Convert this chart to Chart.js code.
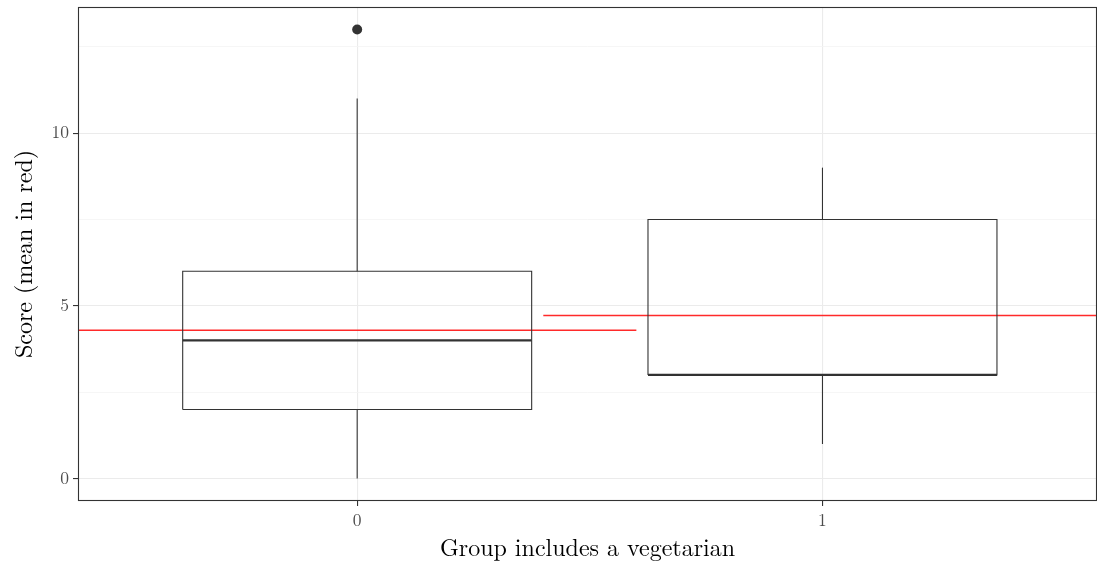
<!DOCTYPE html>
<html>
<head>
<meta charset="utf-8">
<script src="https://cdn.jsdelivr.net/npm/chart.js@4.4.1/dist/chart.umd.min.js"></script>
<style>
  html, body { margin: 0; padding: 0; background: #fff; overflow: hidden; }
  canvas { display: block; }
</style>
</head>
<body>
<canvas id="grafico" width="1097" height="565" style="width:1097px;height:565px"></canvas>
<script>
// dados
const grupos = [0, 1];
const bigodeInf = [0, 1];
const q1 = [2, 3];
const mediana = [4, 3];
const q3 = [6, 7.5];
const bigodeSup = [11, 9];
const outliers = [[13], []];
const medias = [4.29, 4.72];
const ticksY = [0, 5, 10];
const gradeMenorY = [2.5, 7.5, 12.5];

const meiaCaixa = 0.375;
const meiaMedia = 0.6;
const corLinha = '#333333';
const fonte = '"Latin Modern Roman", "Liberation Serif", "DejaVu Serif", serif';

function montarDatasets() {
    const ds = [];
    grupos.forEach((g, i) => {
        // caixa
        ds.push({
            data: [
                { x: g - meiaCaixa, y: q1[i] }, { x: g + meiaCaixa, y: q1[i] },
                { x: g + meiaCaixa, y: q3[i] }, { x: g - meiaCaixa, y: q3[i] },
                { x: g - meiaCaixa, y: q1[i] }
            ],
            showLine: true, borderColor: corLinha, borderWidth: 1.1, pointRadius: 0, fill: false
        });
        // mediana
        ds.push({
            data: [{ x: g - meiaCaixa, y: mediana[i] }, { x: g + meiaCaixa, y: mediana[i] }],
            showLine: true, borderColor: corLinha, borderWidth: 2.2, pointRadius: 0
        });
        // bigodes
        ds.push({
            data: [{ x: g, y: q3[i] }, { x: g, y: bigodeSup[i] }],
            showLine: true, borderColor: corLinha, borderWidth: 1.1, pointRadius: 0
        });
        ds.push({
            data: [{ x: g, y: q1[i] }, { x: g, y: bigodeInf[i] }],
            showLine: true, borderColor: corLinha, borderWidth: 1.1, pointRadius: 0
        });
        // outliers
        ds.push({
            data: outliers[i].map(v => ({ x: g, y: v })),
            showLine: false, pointRadius: 5, pointBackgroundColor: corLinha,
            pointBorderColor: corLinha, pointBorderWidth: 0
        });
    });
    // médias em vermelho
    grupos.forEach((g, i) => {
        ds.push({
            data: [{ x: g - meiaMedia, y: medias[i] }, { x: g + meiaMedia, y: medias[i] }],
            showLine: true, borderColor: '#ff2a2a', borderWidth: 1.5, pointRadius: 0
        });
    });
    return ds;
}

const moldura = {
    id: 'moldura',
    afterDatasetsDraw(chart) {
        const { ctx, chartArea: a } = chart;
        ctx.save();
        ctx.strokeStyle = corLinha;
        ctx.lineWidth = 1.1;
        ctx.strokeRect(a.left + 0.5, a.top + 0.5, a.right - a.left - 1, a.bottom - a.top - 1);
        ctx.restore();
    }
};

function ehMaior(v) {
    return ticksY.includes(v);
}

function semPadding(s) {
    s.paddingTop = 0; s.paddingBottom = 0; s.paddingLeft = 0; s.paddingRight = 0;
}

const ctx = document.getElementById('grafico').getContext('2d');
new Chart(ctx, {
    type: 'scatter',
    data: { datasets: montarDatasets() },
    plugins: [moldura],
    options: {
        responsive: false,
        maintainAspectRatio: false,
        animation: false,
        devicePixelRatio: 1,
        layout: { autoPadding: false, padding: { top: 7, right: 0, left: 0, bottom: 0 } },
        plugins: { legend: { display: false }, tooltip: { enabled: false } },
        scales: {
            x: {
                type: 'linear',
                min: -0.6,
                max: 1.59,
                afterBuildTicks: (s) => { s.ticks = grupos.map(v => ({ value: v })); },
                afterFit: (s) => { s.height = 64; semPadding(s); },
                border: { display: false },
                grid: { color: '#ebebeb', lineWidth: 1.1, tickColor: corLinha, tickLength: 5, drawTicks: true },
                ticks: {
                    color: '#4d4d4d', padding: 4,
                    font: { family: fonte, size: 17.5 },
                    callback: (v) => String(v)
                },
                title: {
                    display: true, text: 'Group includes a vegetarian', color: '#000',
                    font: { family: fonte, size: 24 }, padding: { top: 0, bottom: 2 }
                }
            },
            y: {
                type: 'linear',
                min: -0.65,
                max: 13.65,
                afterBuildTicks: (s) => {
                    s.ticks = ticksY.concat(gradeMenorY).sort((a, b) => a - b).map(v => ({ value: v }));
                },
                afterFit: (s) => { s.width = 78; semPadding(s); },
                border: { display: false },
                grid: {
                    color: (c) => ehMaior(c.tick.value) ? '#ebebeb' : '#f4f4f4',
                    lineWidth: (c) => ehMaior(c.tick.value) ? 1.1 : 0.8,
                    tickColor: (c) => ehMaior(c.tick.value) ? corLinha : 'rgba(0,0,0,0)',
                    tickLength: 5
                },
                ticks: {
                    color: '#4d4d4d', padding: 4,
                    font: { family: fonte, size: 17.5 },
                    callback: (v) => ehMaior(v) ? String(v) : ''
                },
                title: {
                    display: true, text: 'Score (mean in red)', color: '#000',
                    font: { family: fonte, size: 24 }, padding: { top: 10, bottom: 0 }
                }
            }
        }
    }
});
</script>
</body>
</html>
